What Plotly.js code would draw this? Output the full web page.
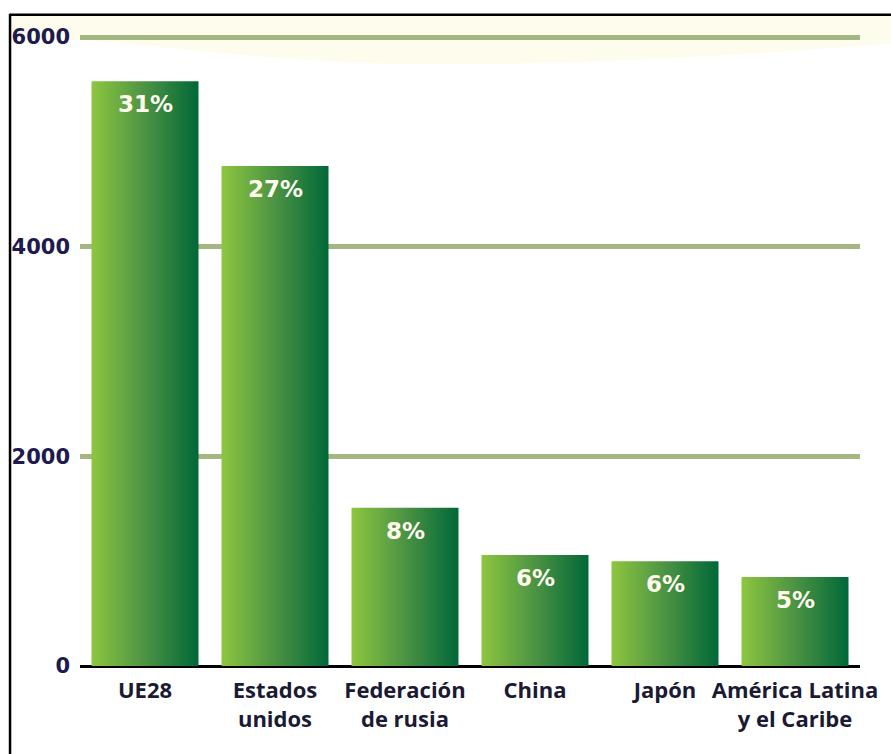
<!DOCTYPE html>
<html>
<head>
<meta charset="utf-8">
<script src="https://cdn.plot.ly/plotly-3.0.1.min.js"></script>
<style>
  html, body { margin: 0; padding: 0; background: #ffffff; }
  #chart { width: 891px; height: 754px; }
</style>
</head>
<body>
<div id="chart"></div>
<script>
// ---- data ----
const categories = ['UE28', 'Estados<br>unidos', 'Federación<br>de rusia', 'China', 'Japón', 'América Latina<br>y el Caribe'];
const values = [5580, 4770, 1510, 1060, 1000, 850];
const shares = ['31%', '27%', '8%', '6%', '6%', '5%'];
const yTickVals = [0, 2000, 4000, 6000];
const yTickText = ['0', '2000', '4000', '6000'];

// ---- styles ----
const numFont = 'DejaVu Sans';
const catFont = 'Open Sans';

const trace = {
  type: 'bar',
  x: categories,
  y: values,
  marker: { color: '#3f8a45', line: { width: 0 } },
  hoverinfo: 'none'
};

const shareAnnotations = categories.map((c, i) => ({
  x: c, y: values[i], xref: 'x', yref: 'y',
  text: shares[i], showarrow: false,
  yanchor: 'top', yshift: -8,
  font: { family: numFont, size: 23, color: '#fffdf0', weight: 'bold' }
}));

// decorative cream band & frame (paper coordinates)
const bandPath = 'M -0.0885 1.0287 L 1.0397 1.0287 L 1.0397 0.985 ' +
  'C 0.85 0.966, 0.65 0.951, 0.45 0.952 C 0.25 0.954, 0.1 0.983, 0 0.990 L -0.0885 0.993 Z';

const layout = {
  width: 891, height: 754,
  margin: { l: 80, r: 31, t: 34, b: 88 },
  paper_bgcolor: '#ffffff',
  plot_bgcolor: 'rgba(0,0,0,0)',
  bargap: 0.177,
  showlegend: false,
  xaxis: {
    type: 'category',
    range: [-0.5, 5.5],
    showgrid: false, zeroline: false, showline: false, ticks: '',
    ticklabelstandoff: 9,
    tickfont: { family: catFont, size: 22, color: '#1a1a33', weight: 'bold' },
    fixedrange: true
  },
  yaxis: {
    range: [0, 6030],
    tickvals: yTickVals, ticktext: yTickText,
    showgrid: true, gridcolor: '#a4b682', gridwidth: 5,
    zeroline: true, zerolinecolor: '#000000', zerolinewidth: 3,
    showline: false, ticks: '',
    ticklabelstandoff: 9,
    tickfont: { family: numFont, size: 21, color: '#1d1a4f', weight: 'bold' },
    fixedrange: true
  },
  annotations: shareAnnotations,
  shapes: [
    { type: 'path', xref: 'paper', yref: 'paper', path: bandPath,
      fillcolor: '#fefcec', line: { width: 0 }, layer: 'below' },
    { type: 'line', xref: 'paper', yref: 'paper', x0: -0.0897, x1: 1.04, y0: 1.0305, y1: 1.0305,
      line: { color: '#000000', width: 2.5 }, layer: 'above' },
    { type: 'line', xref: 'paper', yref: 'paper', x0: -0.0897, x1: -0.0897, y0: 1.032, y1: -0.15,
      line: { color: '#000000', width: 2.5 }, layer: 'above' }
  ]
};

Plotly.newPlot('chart', [trace], layout, { displayModeBar: false, staticPlot: true }).then(gd => {
  const svg = gd.querySelector('svg.main-svg');
  const NS = 'http://www.w3.org/2000/svg';
  let defs = svg.querySelector('defs');
  if (!defs) { defs = document.createElementNS(NS, 'defs'); svg.insertBefore(defs, svg.firstChild); }
  const grad = document.createElementNS(NS, 'linearGradient');
  grad.setAttribute('id', 'barGrad');
  grad.setAttribute('x1', '0'); grad.setAttribute('y1', '0');
  grad.setAttribute('x2', '1'); grad.setAttribute('y2', '0');
  [['0', '#8dc63f'], ['0.5', '#4c9343'], ['1', '#006838']].forEach(([o, c]) => {
    const s = document.createElementNS(NS, 'stop');
    s.setAttribute('offset', o); s.setAttribute('stop-color', c);
    grad.appendChild(s);
  });
  defs.appendChild(grad);
  gd.querySelectorAll('.barlayer .point path').forEach(p => { p.style.fill = 'url(#barGrad)'; });
});
</script>
</body>
</html>
